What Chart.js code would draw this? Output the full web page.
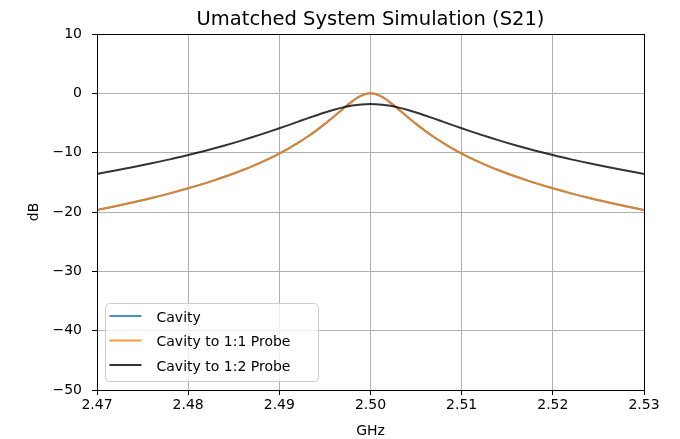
<!DOCTYPE html>
<html>
<head>
<meta charset="utf-8">
<script src="https://cdn.jsdelivr.net/npm/chart.js@4"></script>
<style>
  html, body { margin: 0; padding: 0; background: #fff; }
  canvas { display: block; }
</style>
</head>
<body>
<canvas id="chart" width="680" height="439"></canvas>
<script>
"use strict";

// GHz
const freqs = [
  2.470, 2.472, 2.474, 2.476, 2.478,
  2.480, 2.481, 2.482, 2.483, 2.484, 2.485, 2.486, 2.487, 2.488, 2.489,
  2.490, 2.491, 2.492, 2.493, 2.494, 2.495, 2.496, 2.497, 2.498, 2.499,
  2.500,
  2.501, 2.502, 2.503, 2.504, 2.505, 2.506, 2.507, 2.508, 2.509, 2.510,
  2.511, 2.512, 2.513, 2.514, 2.515, 2.516, 2.517, 2.518, 2.519, 2.520,
  2.522, 2.524, 2.526, 2.528, 2.530,
];

// dB
const cavity = [
  -19.67, -19.04, -18.36, -17.64, -16.86,
  -16.01, -15.56, -15.09, -14.59, -14.07, -13.51, -12.92, -12.30, -11.63, -10.92,
  -10.15, -9.30, -8.39, -7.40, -6.32, -5.15, -3.89, -2.59, -1.35, -0.39,
  0,
  -0.39, -1.35, -2.59, -3.89, -5.15, -6.32, -7.40, -8.39, -9.30, -10.15,
  -10.92, -11.63, -12.30, -12.92, -13.51, -14.07, -14.59, -15.09, -15.56, -16.01,
  -16.86, -17.64, -18.36, -19.04, -19.67,
];
const probe11 = [
  -19.67, -19.04, -18.36, -17.64, -16.86,
  -16.01, -15.56, -15.09, -14.59, -14.07, -13.51, -12.92, -12.30, -11.63, -10.92,
  -10.15, -9.30, -8.39, -7.40, -6.32, -5.15, -3.89, -2.59, -1.35, -0.39,
  0,
  -0.39, -1.35, -2.59, -3.89, -5.15, -6.32, -7.40, -8.39, -9.30, -10.15,
  -10.92, -11.63, -12.30, -12.92, -13.51, -14.07, -14.59, -15.09, -15.56, -16.01,
  -16.86, -17.64, -18.36, -19.04, -19.67,
];
const probe12 = [
  -13.58, -13.02, -12.43, -11.80, -11.13,
  -10.40, -10.02, -9.63, -9.22, -8.79, -8.35, -7.89, -7.41, -6.92, -6.41,
  -5.89, -5.35, -4.81, -4.27, -3.74, -3.23, -2.77, -2.37, -2.06, -1.87,
  -1.80,
  -1.87, -2.06, -2.37, -2.77, -3.23, -3.74, -4.27, -4.81, -5.35, -5.89,
  -6.41, -6.92, -7.41, -7.89, -8.35, -8.79, -9.22, -9.63, -10.02, -10.40,
  -11.13, -11.80, -12.43, -13.02, -13.58,
];

const xTicks = [2.47, 2.48, 2.49, 2.5, 2.51, 2.52, 2.53];
const yTicks = [-50, -40, -30, -20, -10, 0, 10];

const FONT = "DejaVu Sans";
const TITLE = "Umatched System Simulation (S21)";

function points(ys) {
  return freqs.map((f, i) => ({ x: f, y: ys[i] }));
}

// title centred over the axes, as matplotlib does
const titlePlugin = {
  id: "axTitle",
  afterDraw(chart) {
    const { ctx, chartArea: a } = chart;
    ctx.save();
    ctx.font = "19.5px '" + FONT + "'";
    ctx.fillStyle = "#000";
    ctx.textAlign = "center";
    ctx.textBaseline = "alphabetic";
    ctx.fillText(TITLE, (a.left + a.right) / 2, 24.5);
    ctx.restore();
  },
};

// black box round the plot area (spines)
const framePlugin = {
  id: "frame",
  afterDatasetsDraw(chart) {
    const { ctx, chartArea: a } = chart;
    ctx.save();
    ctx.strokeStyle = "#000";
    ctx.lineWidth = 1;
    ctx.strokeRect(Math.round(a.left) + 0.5, Math.round(a.top) + 0.5,
      Math.round(a.right - a.left), Math.round(a.bottom - a.top));
    ctx.restore();
  },
};

// legend box in the lower left corner of the axes
const legendPlugin = {
  id: "boxLegend",
  afterDraw(chart) {
    const { ctx, chartArea: a } = chart;
    const x0 = a.left + 8.5, y0 = a.bottom - 86.5, w = 213, h = 78, r = 4;
    ctx.save();
    ctx.beginPath();
    ctx.moveTo(x0 + r, y0);
    ctx.arcTo(x0 + w, y0, x0 + w, y0 + h, r);
    ctx.arcTo(x0 + w, y0 + h, x0, y0 + h, r);
    ctx.arcTo(x0, y0 + h, x0, y0, r);
    ctx.arcTo(x0, y0, x0 + w, y0, r);
    ctx.closePath();
    ctx.fillStyle = "rgba(255,255,255,0.8)";
    ctx.fill();
    ctx.strokeStyle = "#cccccc";
    ctx.lineWidth = 1;
    ctx.stroke();

    ctx.font = "14px '" + FONT + "'";
    ctx.textBaseline = "middle";
    ctx.textAlign = "left";
    chart.data.datasets.forEach((ds, i) => {
      const y = y0 + 12.5 + i * 24.5;
      ctx.strokeStyle = ds.borderColor;
      ctx.lineWidth = 2;
      ctx.beginPath();
      ctx.moveTo(x0 + 4, y);
      ctx.lineTo(x0 + 36, y);
      ctx.stroke();
      ctx.fillStyle = "#000";
      ctx.fillText(ds.label, x0 + 51, y + 2);
    });
    ctx.restore();
  },
};

const ctx = document.getElementById("chart").getContext("2d");

const chart = new Chart(ctx, {
  type: "line",
  data: {
    datasets: [
      {
        label: "Cavity",
        data: points(cavity),
        borderColor: "rgba(31, 119, 180, 0.8)",
        borderWidth: 2,
        pointRadius: 0,
        cubicInterpolationMode: "monotone",
        order: 3,
      },
      {
        label: "Cavity to 1:1 Probe",
        data: points(probe11),
        borderColor: "rgba(255, 127, 14, 0.8)",
        borderWidth: 2,
        pointRadius: 0,
        cubicInterpolationMode: "monotone",
        order: 2,
      },
      {
        label: "Cavity to 1:2 Probe",
        data: points(probe12),
        borderColor: "rgba(0, 0, 0, 0.8)",
        borderWidth: 2,
        pointRadius: 0,
        cubicInterpolationMode: "monotone",
        order: 1,
      },
    ],
  },
  options: {
    responsive: false,
    animation: false,
    layout: { padding: { left: 0, right: 36, top: 34, bottom: 0 } },
    plugins: {
      legend: { display: false },
      tooltip: { enabled: false },
      title: { display: false },
    },
    scales: {
      x: {
        type: "linear",
        min: 2.47,
        max: 2.53,
        afterBuildTicks: (s) => {
          s.ticks = xTicks.map((v) => ({ value: v }));
        },
        afterFit: (s) => {
          s.height = 49;
        },
        ticks: {
          callback: (v) => Number(v).toFixed(2),
          color: "#000",
          font: { family: FONT, size: 14 },
          padding: 2,
          maxRotation: 0,
          autoSkip: false,
        },
        grid: { color: "#b0b0b0", tickColor: "#000", tickLength: 5 },
        border: { display: false },
        title: {
          display: true,
          text: "GHz",
          color: "#000",
          font: { family: FONT, size: 14, lineHeight: 1.1 },
          padding: { top: 0, bottom: 0 },
        },
      },
      y: {
        type: "linear",
        min: -50,
        max: 10,
        afterBuildTicks: (s) => {
          s.ticks = yTicks.map((v) => ({ value: v }));
        },
        afterFit: (s) => {
          s.width = 97;
        },
        ticks: {
          callback: (v) => (v < 0 ? "\u2212" + Math.abs(v) : String(v)),
          color: "#000",
          font: { family: FONT, size: 14 },
          padding: 10,
          autoSkip: false,
        },
        grid: { color: "#b0b0b0", tickColor: "#000", tickLength: 5 },
        border: { display: false },
        title: {
          display: true,
          text: "dB",
          color: "#000",
          font: { family: FONT, size: 14 },
          padding: { top: 26, bottom: 0 },
        },
      },
    },
  },
  plugins: [framePlugin, legendPlugin, titlePlugin],
});
</script>
</body>
</html>
